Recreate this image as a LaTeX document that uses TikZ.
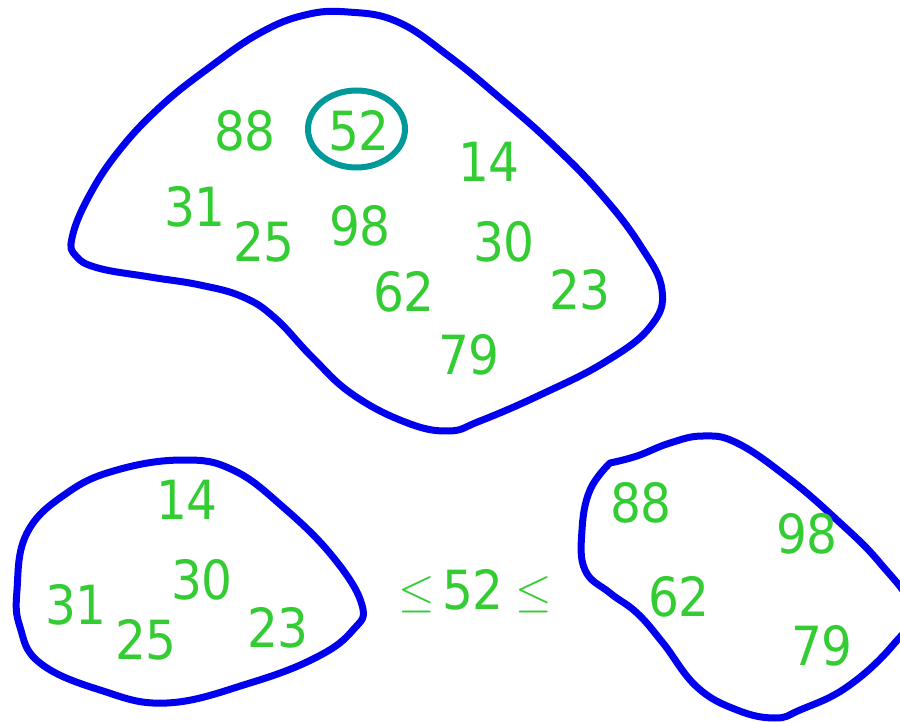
\RequirePackage{fix-cm}
\documentclass[tikz,border=0pt]{standalone}
\usepackage{fontspec}
\setmainfont{DejaVu Sans}[FakeStretch=0.9]
\usetikzlibrary{shapes.geometric}
\definecolor{numgreen}{HTML}{33CC33}
\definecolor{blobblue}{HTML}{0000EE}
\definecolor{ringteal}{HTML}{009999}
\begin{document}
\begin{tikzpicture}[x=1pt,y=-1pt,
  num/.style={text=numgreen, font=\fontsize{54}{60}\selectfont, inner sep=0pt},
  leqsign/.style={text=numgreen, font=\fontsize{47}{52}\selectfont, inner sep=0pt},
  blob/.style={draw=blobblue, line width=7pt, line join=round, line cap=round}]
\useasboundingbox (0,0) rectangle (900,722);
\clip (0,0) rectangle (900,722);

% top blob
\draw[blob] plot[smooth cycle, tension=0.7] coordinates {
 (72,238) (88,198) (118,152) (160,107) (210,67) (260,33) (305,15) (348,12)
 (398,22) (450,57) (500,98) (550,142) (600,193) (640,245) (662,290) (650,327)
 (605,362) (540,395) (480,421) (448,431) (405,422) (352,394) (312,357)
 (275,318) (243,297) (200,285) (150,277) (98,268) (76,256)};

% bottom-left blob
\draw[blob] plot[smooth cycle, tension=0.7] coordinates {
 (17,590) (27,533) (67,493) (117,470) (183,460) (233,470) (283,507)
 (333,557) (362,605) (353,630) (317,657) (250,683) (167,703) (100,690)
 (40,663) (20,627)};

% bottom-right blob (with corner at top left)
\draw[blob] plot[smooth, tension=0.7] coordinates {
 (610,463) (637,456) (670,443) (703,436) (737,443) (787,477) (837,520)
 (880,563) (912,610) (893,645) (847,687) (800,710) (775,718) (737,710)
 (697,687) (663,643) (637,613) (610,593) (585,570) (582,530) (590,490) (610,463)};

% ring around 52
\node[ellipse, draw=ringteal, line width=6pt, minimum width=97pt, minimum height=77pt, inner sep=0pt] (ring) at (356.5,129) {};

% top numbers
\node[num] (t88) at (245,131) {88};
\node[num] (t52) at (359,131) {52};
\node[num] (t14) at (489,162) {14};
\node[num] (t31) at (195,207) {31};
\node[num] (t25) at (264,242) {25};
\node[num] (t98) at (360,226) {98};
\node[num] (t30) at (504,242) {30};
\node[num] (t62) at (404,292) {62};
\node[num] (t23) at (580,290) {23};
\node[num] (t79) at (469,355) {79};

% bottom-left numbers
\node[num] (l14) at (187,500) {14};
\node[num] (l30) at (202,580) {30};
\node[num] (l31) at (76,605) {31};
\node[num] (l25) at (146,640) {25};
\node[num] (l23) at (278,628) {23};

% bottom-right numbers
\node[num] (r88) at (641,503) {88};
\node[num] (r98) at (807,534) {98};
\node[num] (r62) at (679,597) {62};
\node[num] (r79) at (822,646) {79};

% middle relation
\node[leqsign] (leqA) at (417,595) {$\leq$};
\node[num] (m52) at (473,590) {52};
\node[leqsign] (leqB) at (534,595) {$\leq$};
\end{tikzpicture}
\end{document}
